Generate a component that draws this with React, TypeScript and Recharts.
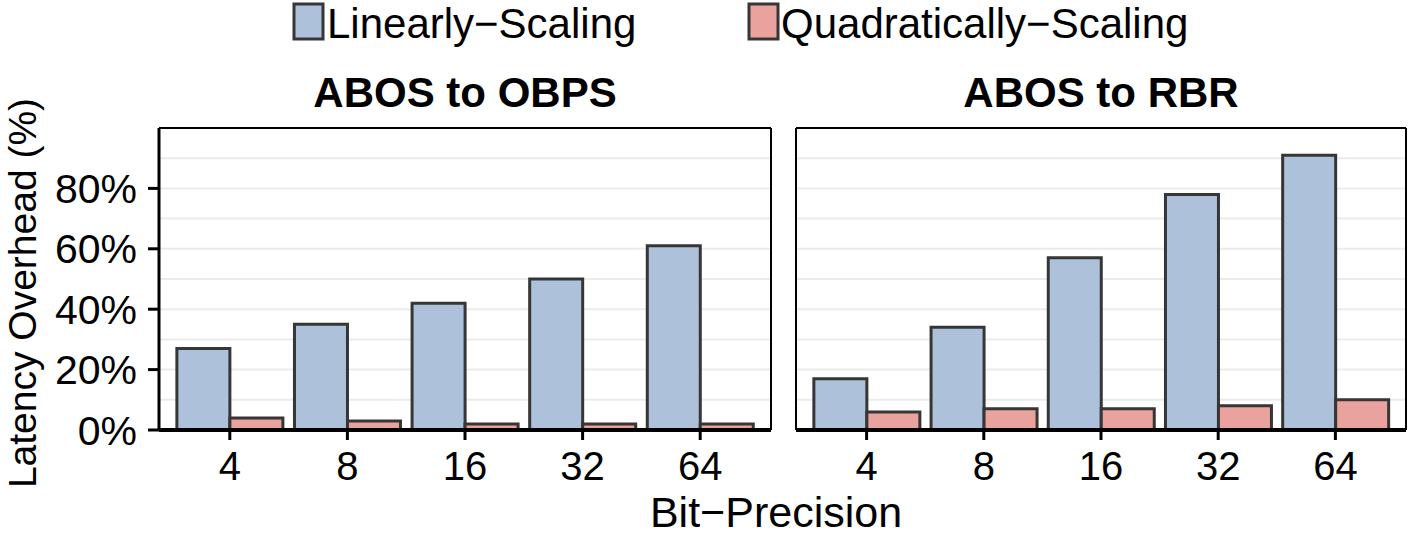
import React from 'react';
import { BarChart, Bar, XAxis, YAxis, CartesianGrid } from 'recharts';

const categories = ['4', '8', '16', '32', '64'];
const obpsLinear = [27, 35, 42, 50, 61];
const obpsQuad = [4, 3, 2, 2, 2];
const rbrLinear = [17, 34, 57, 78, 91];
const rbrQuad = [6, 7, 7, 8, 10];
const yLabelTicks = [0, 20, 40, 60, 80];
const gridTicks = [0, 10, 20, 30, 40, 50, 60, 70, 80, 90];
const seriesNames = ['Linearly\u2212Scaling', 'Quadratically\u2212Scaling'];
const panelTitles = ['ABOS to OBPS', 'ABOS to RBR'];

const obpsData = categories.map((c, i) => ({ bits: c, linear: obpsLinear[i], quad: obpsQuad[i] }));
const rbrData = categories.map((c, i) => ({ bits: c, linear: rbrLinear[i], quad: rbrQuad[i] }));

const FONT = '"Liberation Sans", Arial, Helvetica, sans-serif';
const BLUE = '#aec1da';
const RED = '#eaa29e';
const EDGE = '#363636';

function YTick(props: any) {
  const { x, y, payload, show } = props;
  const v = payload.value;
  if (!show || !yLabelTicks.includes(v)) return <g />;
  return (
    <g>
      <line x1={x + 11} x2={x + 22} y1={y} y2={y} stroke="#000" strokeWidth={3} />
      <text x={x} y={y} dy="0.355em" textAnchor="end" fontSize={41} fontFamily={FONT} fill="#000">
        {`${v}%`}
      </text>
    </g>
  );
}

function Panel({ data, left, width, showY, yWidth, rightMargin }: any) {
  return (
    <div style={{ position: 'absolute', left, top: 0 }}>
      <BarChart
        width={width}
        height={536}
        data={data}
        margin={{ top: 127, right: rightMargin, left: 0, bottom: 0 }}
        barCategoryGap="5%"
        barGap={0}
      >
        <CartesianGrid vertical={false} stroke="#ebebeb" strokeWidth={2} />
        <XAxis
          dataKey="bits"
          interval={0}
          padding={{ left: 12, right: 12 }}
          height={106}
          tickSize={10}
          tickMargin={12}
          axisLine={{ stroke: '#000', strokeWidth: 4 }}
          tickLine={{ stroke: '#000', strokeWidth: 3 }}
          tick={{ fill: '#000', fontSize: 40, fontFamily: FONT }}
        />
        <XAxis
          xAxisId="top"
          orientation="top"
          dataKey="bits"
          height={1}
          tick={false}
          tickLine={false}
          axisLine={{ stroke: '#000', strokeWidth: 2 }}
        />
        <YAxis
          domain={[0, 100]}
          ticks={gridTicks}
          interval={0}
          width={yWidth}
          tickSize={11}
          tickMargin={11}
          tick={<YTick show={showY} />}
          tickLine={false}
          axisLine={{ stroke: '#000', strokeWidth: showY ? 3 : 2 }}
        />
        <YAxis
          yAxisId="right"
          orientation="right"
          domain={[0, 100]}
          width={1}
          tick={false}
          tickLine={false}
          axisLine={{ stroke: '#000', strokeWidth: 2 }}
        />
        <Bar dataKey="linear" fill={BLUE} stroke={EDGE} strokeWidth={3} isAnimationActive={false} />
        <Bar dataKey="quad" fill={RED} stroke={EDGE} strokeWidth={3} isAnimationActive={false} />
      </BarChart>
    </div>
  );
}

export default function App() {
  return (
    <div style={{ position: 'absolute', left: 0, top: 0, width: 1412, height: 536, background: '#fff', overflow: 'hidden' }}>
      <Panel data={obpsData} left={0} width={780} showY yWidth={159} rightMargin={8} />
      <Panel data={rbrData} left={780} width={632} showY={false} yWidth={16} rightMargin={5} />
      <svg width={1412} height={536} style={{ position: 'absolute', left: 0, top: 0, pointerEvents: 'none' }} fontFamily={FONT}>
        <rect x={294} y={4} width={29} height={35} fill={BLUE} stroke={EDGE} strokeWidth={3} />
        <text x={327} y={38} fontSize={42} fill="#000">{seriesNames[0]}</text>
        <rect x={749} y={4} width={29} height={35} fill={RED} stroke={EDGE} strokeWidth={3} />
        <text x={781} y={38} fontSize={42} fill="#000">{seriesNames[1]}</text>
        <text x={465} y={107} fontSize={42} fontWeight="bold" textAnchor="middle" fill="#000">{panelTitles[0]}</text>
        <text x={1101} y={107} fontSize={42} fontWeight="bold" textAnchor="middle" fill="#000">{panelTitles[1]}</text>
        <text x={36} y={293} fontSize={39} textAnchor="middle" fill="#000" transform="rotate(-90 36 293)">Latency Overhead (%)</text>
        <text x={776} y={527} fontSize={43} textAnchor="middle" fill="#000">Bit{'\u2212'}Precision</text>
      </svg>
    </div>
  );
}
